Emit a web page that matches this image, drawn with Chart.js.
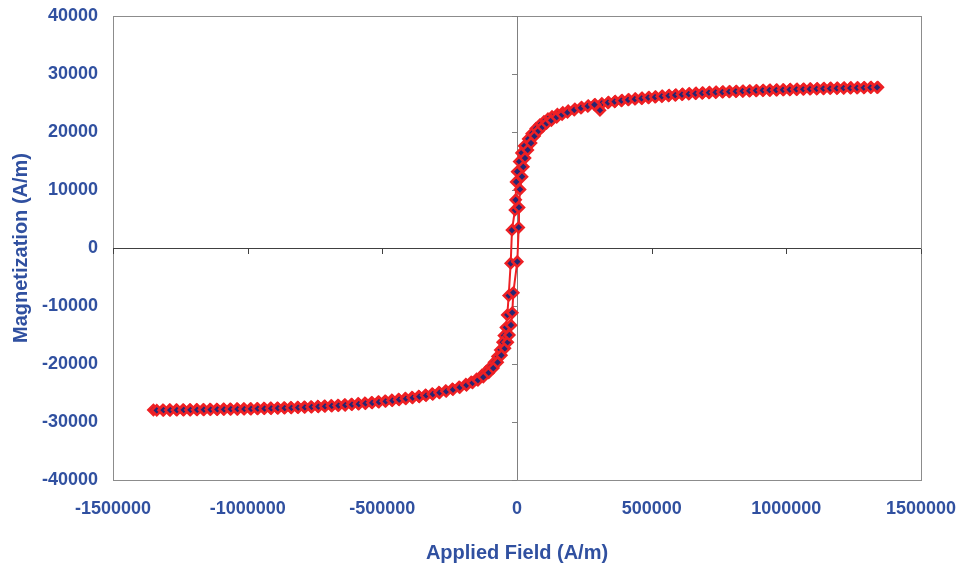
<!DOCTYPE html>
<html>
<head>
<meta charset="utf-8">
<title>Magnetization loop</title>
<script src="https://cdn.jsdelivr.net/npm/chart.js@4/dist/chart.umd.min.js"></script>
<style>
    html, body { margin: 0; padding: 0; background: #ffffff; }
    #wrap { width: 961px; height: 567px; position: relative; }
</style>
</head>
<body>
<div id="wrap"><canvas id="loopChart" width="961" height="567"></canvas></div>
<script>
// descending branch (from +H saturation to -H saturation)
const descField = [
    1340000, 1315000, 1290000, 1265000, 1240000, 1215000, 1190000, 1165000, 1140000, 1115000,
    1090000, 1065000, 1040000, 1015000, 990000, 965000, 940000, 915000, 890000, 865000,
    840000, 815000, 790000, 765000, 740000, 715000, 690000, 665000, 640000, 615000,
    590000, 565000, 540000, 515000, 490000, 465000, 440000, 415000, 390000, 365000,
    340000, 315000, 290000, 265000, 240000, 215000, 190000, 170000, 150000, 130000,
    115000, 100000, 85000, 70000, 55000, 42000, 27000, 17000, 8500, 1000,
    -3000, -5000, -7500, -18600, -23400, -30800, -36000, -40800, -48300, -53100,
    -62000, -72000, -85000, -100000, -115000, -130000, -150000, -170000, -190000, -215000,
    -240000, -265000, -290000, -315000, -340000, -365000, -390000, -415000, -440000, -465000,
    -490000, -515000, -540000, -565000, -590000, -615000, -640000, -665000, -690000, -715000,
    -740000, -765000, -790000, -815000, -840000, -865000, -890000, -915000, -940000, -965000,
    -990000, -1015000, -1040000, -1065000, -1090000, -1115000, -1140000, -1165000, -1190000, -1215000,
    -1240000, -1265000, -1290000, -1315000, -1350000
];
const descMag = [
    27720, 27700, 27690, 27670, 27650, 27630, 27600, 27570, 27530, 27500,
    27470, 27430, 27390, 27350, 27300, 27260, 27220, 27180, 27140, 27100,
    27060, 27020, 26980, 26930, 26880, 26830, 26770, 26700, 26620, 26530,
    26420, 26320, 26210, 26090, 25970, 25840, 25720, 25600, 25460, 25290,
    25110, 24920, 24730, 24520, 24270, 23970, 23650, 23380, 23060, 22650,
    22260, 21800, 21250, 20600, 19700, 18800, 17600, 16400, 14900, 13150,
    11400, 8300, 6550, 3100, -2640, -8200, -11550, -13700, -15100, -16250,
    -17600, -18700, -19700, -20600, -21300, -21900, -22600, -23100, -23500, -23950,
    -24300, -24620, -24880, -25120, -25350, -25560, -25750, -25920, -26080, -26230,
    -26370, -26500, -26620, -26730, -26830, -26930, -27020, -27100, -27170, -27240,
    -27300, -27360, -27410, -27460, -27500, -27540, -27580, -27610, -27640, -27670,
    -27700, -27720, -27740, -27760, -27780, -27800, -27820, -27840, -27850, -27870,
    -27880, -27900, -27910, -27920, -27930
];

// ascending branch (from -H saturation back to +H saturation)
const ascField = [
    -1337500, -1312500, -1287500, -1262500, -1237500, -1212500, -1187500, -1162500, -1137500, -1112500,
    -1087500, -1062500, -1037500, -1012500, -987500, -962500, -937500, -912500, -887500, -862500,
    -837500, -812500, -787500, -762500, -737500, -712500, -687500, -662500, -637500, -612500,
    -587500, -562500, -537500, -512500, -487500, -462500, -437500, -412500, -387500, -362500,
    -337500, -312500, -287500, -262500, -237500, -212500, -187500, -165000, -145000, -125000,
    -105000, -88000, -72000, -58000, -45000, -34500, -28600, -22300, -17500, -13700,
    1100, 6300, 7400, 11100, 18600, 23400, 29700, 40000, 52000, 65000,
    80000, 95000, 110000, 127500, 147500, 167500, 187500, 212500, 237500, 262500,
    287500, 308000, 337500, 362500, 387500, 412500, 437500, 462500, 487500, 512500,
    537500, 562500, 587500, 612500, 637500, 662500, 687500, 712500, 737500, 762500,
    787500, 812500, 837500, 862500, 887500, 912500, 937500, 962500, 987500, 1012500,
    1037500, 1062500, 1087500, 1112500, 1137500, 1162500, 1187500, 1212500, 1237500, 1262500,
    1287500, 1312500, 1337000
];
const ascMag = [
    -27980, -27960, -27950, -27940, -27920, -27910, -27890, -27880, -27860, -27840,
    -27820, -27800, -27780, -27760, -27740, -27710, -27680, -27650, -27620, -27590,
    -27550, -27510, -27460, -27410, -27360, -27300, -27230, -27160, -27090, -27000,
    -26900, -26800, -26690, -26570, -26440, -26300, -26150, -25990, -25820, -25630,
    -25430, -25200, -24950, -24700, -24400, -24050, -23650, -23250, -22800, -22250,
    -21500, -20700, -19700, -18500, -17300, -16250, -15000, -13300, -11150, -7700,
    -2350, 3550, 7000, 10100, 12300, 14000, 15500, 16900, 18100, 19300,
    20200, 20900, 21500, 22000, 22550, 23000, 23400, 23800, 24150, 24450,
    24700, 23750, 25050, 25230, 25400, 25550, 25680, 25800, 25920, 26030,
    26140, 26250, 26350, 26450, 26540, 26620, 26700, 26770, 26830, 26890,
    26940, 26990, 27040, 27080, 27120, 27160, 27200, 27230, 27270, 27300,
    27340, 27370, 27400, 27430, 27460, 27490, 27520, 27550, 27580, 27600,
    27630, 27660, 27680
];

// axis ranges
const xMin = -1500000, xMax = 1500000, xStep = 500000;
const yMin = -40000, yMax = 40000, yStep = 10000;

document.addEventListener("DOMContentLoaded", function () {
    const labelBlue = "#3050a0";
    const red = "#ee2024";
    const navy = "#262673";
    const fontFamily = "Liberation Sans, Arial, sans-serif";

    function toPoints(xs, ys) {
        return xs.map((x, i) => ({ x: x, y: ys[i] }));
    }

    // Excel-like frame plus axes crossing at zero
    const zeroAxes = {
        id: "zeroAxes",
        beforeDatasetsDraw(chart) {
            const { ctx, chartArea, scales } = chart;
            const x0 = Math.round(scales.x.getPixelForValue(0));
            const y0 = Math.round(scales.y.getPixelForValue(0));
            ctx.save();
            ctx.lineWidth = 1;
            ctx.strokeStyle = "#8c8c8c";
            ctx.strokeRect(Math.round(chartArea.left) + 0.5, Math.round(chartArea.top) + 0.5,
                Math.round(chartArea.right - chartArea.left), Math.round(chartArea.bottom - chartArea.top));

            // vertical axis at x = 0 with ticks to the left
            ctx.strokeStyle = "#808080";
            ctx.beginPath();
            ctx.moveTo(x0 + 0.5, chartArea.top);
            ctx.lineTo(x0 + 0.5, chartArea.bottom);
            scales.y.ticks.forEach(t => {
                const py = Math.round(scales.y.getPixelForValue(t.value)) + 0.5;
                ctx.moveTo(x0 - 5, py);
                ctx.lineTo(x0, py);
            });
            ctx.stroke();

            // horizontal axis at y = 0 with ticks below
            ctx.strokeStyle = "#404040";
            ctx.beginPath();
            ctx.moveTo(chartArea.left, y0 + 0.5);
            ctx.lineTo(chartArea.right, y0 + 0.5);
            scales.x.ticks.forEach(t => {
                const px = Math.round(scales.x.getPixelForValue(t.value)) + 0.5;
                ctx.moveTo(px, y0 + 1);
                ctx.lineTo(px, y0 + 6);
            });
            ctx.stroke();
            ctx.restore();
        }
    };

    const seriesStyle = {
        showLine: true,
        borderColor: red,
        borderWidth: 2,
        backgroundColor: navy,
        pointStyle: "rectRot",
        pointRadius: 5,
        pointBorderColor: red,
        pointBackgroundColor: navy,
        pointBorderWidth: 2.5,
        tension: 0
    };

    const ctx = document.getElementById("loopChart").getContext("2d");
    new Chart(ctx, {
        type: "scatter",
        data: {
            // first dataset is painted last, so the rising branch sits on top
            datasets: [
                Object.assign({ label: "Ascending", data: toPoints(ascField, ascMag) }, seriesStyle),
                Object.assign({ label: "Descending", data: toPoints(descField, descMag) }, seriesStyle)
            ]
        },
        options: {
            responsive: false,
            animation: false,
            layout: { padding: { left: 0, right: 40, top: 16, bottom: 0 } },
            plugins: {
                legend: { display: false },
                tooltip: { enabled: false }
            },
            scales: {
                x: {
                    type: "linear",
                    min: xMin,
                    max: xMax,
                    afterFit: s => {
                        s.height = 87;
                        s.paddingLeft = 0;
                        s.paddingRight = 0;
                    },
                    ticks: {
                        stepSize: xStep,
                        color: labelBlue,
                        font: { family: fontFamily, size: 18, weight: "bold" },
                        padding: 18,
                        maxRotation: 0,
                        callback: v => String(v)
                    },
                    grid: { display: false, drawTicks: false },
                    border: { display: false },
                    title: {
                        display: true,
                        text: "Applied Field (A/m)",
                        color: labelBlue,
                        font: { family: fontFamily, size: 20, weight: "bold" },
                        padding: { top: 0, bottom: 2 }
                    }
                },
                y: {
                    type: "linear",
                    min: yMin,
                    max: yMax,
                    afterFit: s => {
                        s.width = 113;
                        s.paddingTop = 0;
                        s.paddingBottom = 0;
                    },
                    ticks: {
                        stepSize: yStep,
                        color: labelBlue,
                        font: { family: fontFamily, size: 18, weight: "bold" },
                        padding: 15,
                        callback: v => String(v)
                    },
                    grid: { display: false, drawTicks: false },
                    border: { display: false },
                    title: {
                        display: true,
                        text: "Magnetization (A/m)",
                        color: labelBlue,
                        font: { family: fontFamily, size: 20, weight: "bold" },
                        padding: { top: 9, bottom: 0 }
                    }
                }
            }
        },
        plugins: [zeroAxes]
    });
});
</script>
</body>
</html>
